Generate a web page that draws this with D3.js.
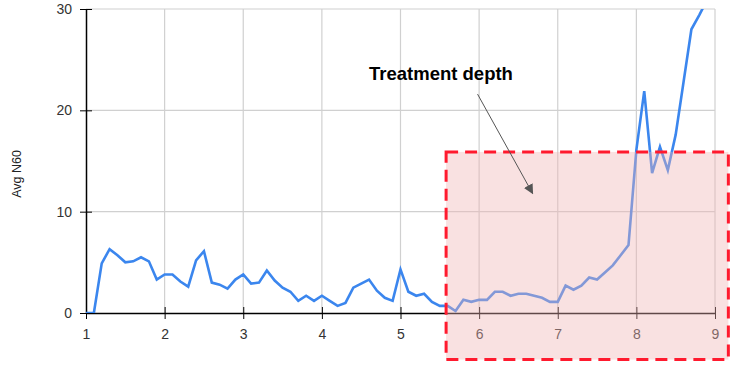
<!DOCTYPE html>
<html>
<head>
<meta charset="utf-8">
<script src="https://cdn.jsdelivr.net/npm/d3@7"></script>
<style>
  body { margin: 0; background: #fff; }
  svg { display: block; font-family: Arial, "Liberation Sans", sans-serif; }
</style>
</head>
<body>
<svg id="chart" width="740" height="374"></svg>
<script>
// depth (x) and average N60 (y)
const depth = [
  1.0, 1.1, 1.2, 1.3, 1.4, 1.5, 1.6, 1.7, 1.8, 1.9,
  2.0, 2.1, 2.2, 2.3, 2.4, 2.5, 2.6, 2.7, 2.8, 2.9,
  3.0, 3.1, 3.2, 3.3, 3.4, 3.5, 3.6, 3.7, 3.8, 3.9,
  4.0, 4.1, 4.2, 4.3, 4.4, 4.5, 4.6, 4.7, 4.8, 4.9,
  5.0, 5.1, 5.2, 5.3, 5.4, 5.5, 5.6, 5.7, 5.8, 5.9,
  6.0, 6.1, 6.2, 6.3, 6.4, 6.5, 6.6, 6.7, 6.8, 6.9,
  7.0, 7.1, 7.2, 7.3, 7.4, 7.5, 7.6, 7.7, 7.8, 7.9,
  8.0, 8.1, 8.2, 8.3, 8.4, 8.5, 8.6, 8.7, 8.8, 8.9
];
const avgN60 = [
  0, 0, 4.9, 6.3, 5.7, 5.0, 5.1, 5.5, 5.1, 3.3,
  3.8, 3.8, 3.1, 2.6, 5.2, 6.1, 3.0, 2.8, 2.4, 3.3,
  3.8, 2.9, 3.0, 4.2, 3.2, 2.5, 2.1, 1.2, 1.7, 1.2,
  1.7, 1.2, 0.7, 1.0, 2.5, 2.9, 3.3, 2.2, 1.5, 1.2,
  4.3, 2.1, 1.7, 1.9, 1.1, 0.7, 0.7, 0.2, 1.3, 1.1,
  1.3, 1.3, 2.1, 2.1, 1.7, 1.9, 1.9, 1.7, 1.5, 1.1,
  1.1, 2.7, 2.3, 2.7, 3.5, 3.3, 4.0, 4.7, 5.7, 6.7,
  16.1, 21.9, 13.8, 16.4, 14.1, 17.6, 22.8, 28.0, 29.4, 30.9
];
const xTicks = [1, 2, 3, 4, 5, 6, 7, 8, 9];
const yTicks = [0, 10, 20, 30];

// annotation box + arrow, in data units
const boxX = [5.58, 9.17];
const boxY = [-4.6, 15.9];
const arrowFrom = [5.98, 21.6];
const arrowTo = [6.68, 11.8];
const labelText = 'Treatment depth';

const svg = d3.select('#chart');
const plotLeft = 86, plotRight = 715, plotTop = 9, plotBottom = 313;

const x = d3.scaleLinear().domain([1, 9]).range([plotLeft, plotRight]);
const y = d3.scaleLinear().domain([0, 30]).range([plotBottom, plotTop]);

// grid
svg.append('g')
  .selectAll('line')
  .data(xTicks.slice(1))
  .enter()
  .append('line')
  .attr('x1', d => x(d)).attr('x2', d => x(d))
  .attr('y1', plotTop).attr('y2', plotBottom)
  .attr('stroke', '#d0d0d0').attr('stroke-width', 1.2);

svg.append('g')
  .selectAll('line')
  .data(yTicks.slice(1))
  .enter()
  .append('line')
  .attr('x1', plotLeft).attr('x2', plotRight)
  .attr('y1', d => y(d)).attr('y2', d => y(d))
  .attr('stroke', '#d0d0d0').attr('stroke-width', 1.2);

// axes
const xAxis = svg.append('g')
  .attr('transform', `translate(0,${plotBottom})`)
  .call(d3.axisBottom(x).tickValues(xTicks).tickFormat(d3.format('d')).tickSizeInner(6).tickSizeOuter(0).tickPadding(10));
xAxis.selectAll('.tick line').attr('y1', -6).attr('stroke', '#000');
xAxis.select('.domain').attr('stroke', '#000').attr('stroke-width', 1.5);
xAxis.selectAll('text').attr('font-size', 14).attr('fill', '#333').attr('font-family', 'Arial, "Liberation Sans", sans-serif');

const yAxis = svg.append('g')
  .attr('transform', `translate(${plotLeft},0)`)
  .call(d3.axisLeft(y).tickValues(yTicks).tickSizeInner(6).tickSizeOuter(0).tickPadding(8));
yAxis.selectAll('.tick line').attr('x1', 6).attr('x2', -6).attr('stroke', '#000');
yAxis.select('.domain').attr('stroke', '#000').attr('stroke-width', 1.5);
yAxis.selectAll('text').attr('font-size', 14).attr('fill', '#333').attr('font-family', 'Arial, "Liberation Sans", sans-serif');

svg.append('text')
  .attr('transform', `translate(21,174) rotate(-90)`)
  .attr('text-anchor', 'middle')
  .attr('font-size', 12.5)
  .attr('fill', '#222')
  .text('Avg N60');

// line, clipped to plot area
svg.append('clipPath').attr('id', 'plot-clip')
  .append('rect')
  .attr('x', plotLeft).attr('y', plotTop)
  .attr('width', plotRight - plotLeft).attr('height', plotBottom - plotTop);

const line = d3.line()
  .x((d, i) => x(depth[i]))
  .y(d => y(d));

svg.append('path')
  .datum(avgN60)
  .attr('clip-path', 'url(#plot-clip)')
  .attr('fill', 'none')
  .attr('stroke', '#3b86ee')
  .attr('stroke-width', 2.6)
  .attr('stroke-linejoin', 'miter')
  .attr('d', line);

// annotation
svg.append('rect')
  .attr('x', x(boxX[0])).attr('y', y(boxY[1]))
  .attr('width', x(boxX[1]) - x(boxX[0]))
  .attr('height', y(boxY[0]) - y(boxY[1]))
  .attr('fill', 'rgba(240,180,180,0.4)')
  .attr('stroke', '#ff1a2e')
  .attr('stroke-width', 3)
  .attr('stroke-dasharray', '12 7');

svg.append('defs').append('marker')
  .attr('id', 'arrowhead')
  .attr('viewBox', '0 0 10 10')
  .attr('refX', 9).attr('refY', 5)
  .attr('markerWidth', 10).attr('markerHeight', 10)
  .attr('markerUnits', 'userSpaceOnUse')
  .attr('orient', 'auto')
  .append('path')
  .attr('d', 'M0,0 L10,5 L0,10 Z')
  .attr('fill', '#555');

svg.append('line')
  .attr('x1', x(arrowFrom[0])).attr('y1', y(arrowFrom[1]))
  .attr('x2', x(arrowTo[0])).attr('y2', y(arrowTo[1]))
  .attr('stroke', '#555')
  .attr('stroke-width', 1)
  .attr('marker-end', 'url(#arrowhead)');

svg.append('text')
  .attr('x', 369).attr('y', 80)
  .attr('font-size', 18.5)
  .attr('font-weight', 'bold')
  .attr('fill', '#000')
  .text(labelText);
</script>
</body>
</html>
